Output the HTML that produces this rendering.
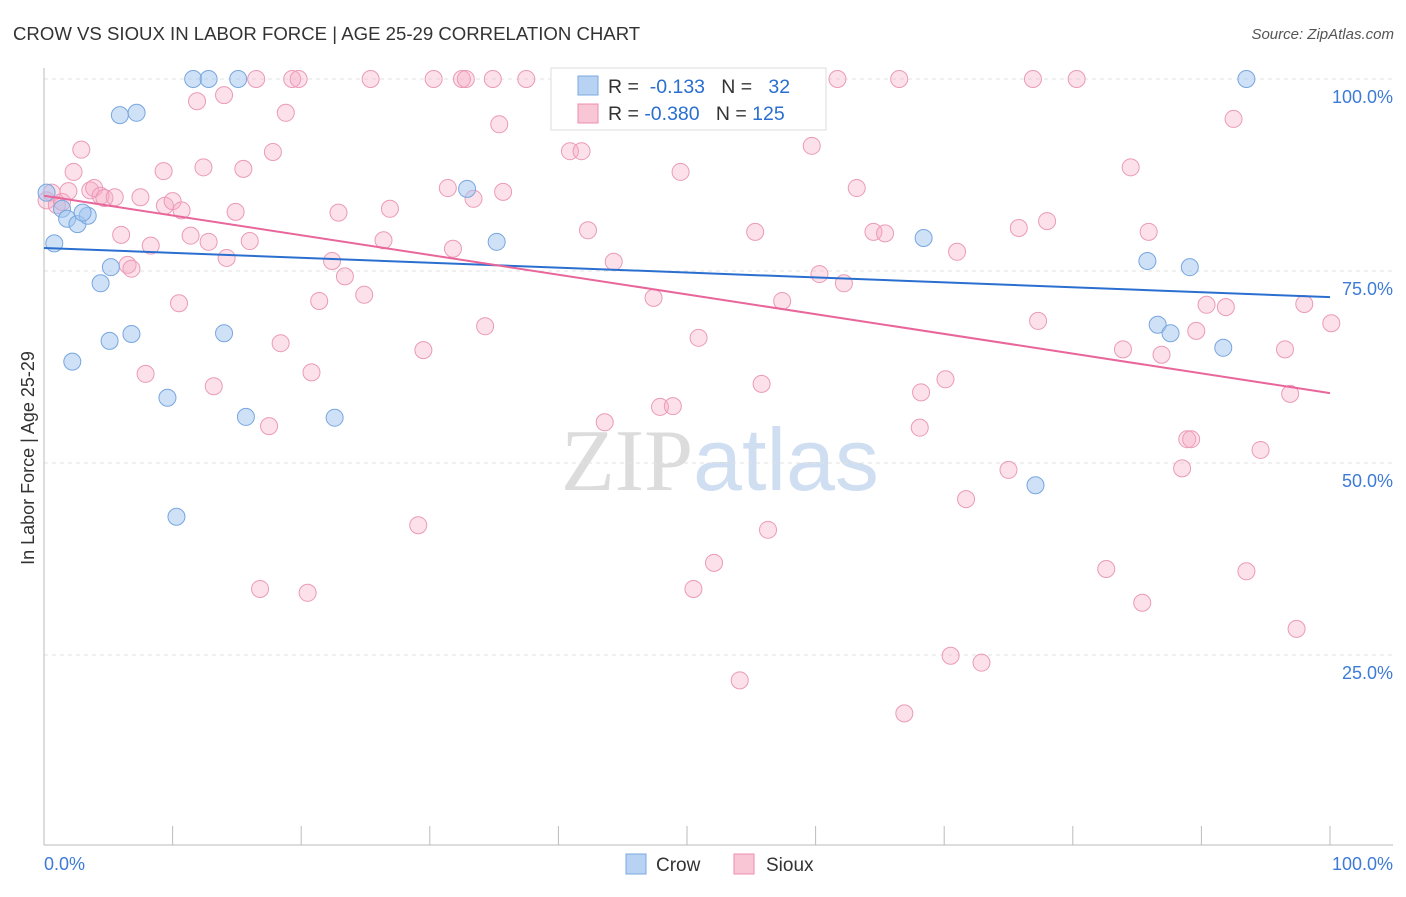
<!DOCTYPE html>
<html><head><meta charset="utf-8"><style>
body{margin:0;background:#fff;font-family:"Liberation Sans",sans-serif;}
svg text{font-family:"Liberation Sans",sans-serif;}
</style></head><body>
<svg id="chart" width="1406" height="892" viewBox="0 0 1406 892" xmlns="http://www.w3.org/2000/svg">
<text x="13" y="40" font-size="18.6" fill="#333">CROW VS SIOUX IN LABOR FORCE | AGE 25-29 CORRELATION CHART</text>
<text x="1394" y="39" font-size="15" fill="#555" text-anchor="end" font-style="italic">Source: ZipAtlas.com</text>
<text transform="translate(34,458) rotate(-90)" font-size="18" fill="#333" text-anchor="middle">In Labor Force | Age 25-29</text>
<text x="720" y="490" font-size="88" text-anchor="middle"><tspan fill="#dcdcdc" font-family="Liberation Serif">ZIP</tspan><tspan fill="#d0def2">atlas</tspan></text>
<g id="grid"></g><g id="axes"></g><g id="pts"></g><g id="trends"></g>
<g>
<rect x="551" y="68" width="275" height="62" fill="#fff" stroke="#ddd"/>
<rect x="578" y="76" width="20" height="19" fill="#b8d2f3" stroke="#7aaae0"/>
<rect x="578" y="104" width="20" height="19" fill="#f9c6d6" stroke="#eb8fb0"/>
<text x="608" y="93" font-size="19.5" fill="#333">R = <tspan fill="#2a6fd0">&#160;-0.133</tspan>&#160;&#160;&#160;N = <tspan fill="#2a6fd0">&#160;&#160;32</tspan></text>
<text x="608" y="120" font-size="19.5" fill="#333">R = <tspan fill="#2a6fd0">-0.380</tspan>&#160;&#160;&#160;N = <tspan fill="#2a6fd0">125</tspan></text>
</g>
<g>
<rect x="626" y="854" width="20" height="20" fill="#b8d2f3" stroke="#7aaae0"/>
<text x="656" y="871" font-size="19" fill="#333">Crow</text>
<rect x="734" y="854" width="20" height="20" fill="#f9c6d6" stroke="#eb8fb0"/>
<text x="766" y="871" font-size="19" fill="#333">Sioux</text>
</g>
</svg>
<script>
const yTicks=[100,75,50,25];
const yTickLabels=["100.0%","75.0%","50.0%","25.0%"];
const xTicks=[0,10,20,30,40,50,60,70,80,90,100];
const crowX=[0.2,0.8,1.4,1.8,2.6,3.4,3.0,4.4,5.2,5.1,5.9,7.2,6.8,2.2,9.6,10.3,11.6,12.8,15.1,14.0,15.7,22.6,32.9,35.2,68.4,77.1,85.8,86.6,87.6,89.1,91.7,93.5];
const crowY=[85.2,78.6,83.1,81.8,81.1,82.2,82.6,73.4,75.5,65.9,95.3,95.6,66.8,63.2,58.5,43.0,100,100,100,66.9,56.0,55.9,85.7,78.8,79.3,47.1,76.3,68.0,66.9,75.5,65.0,100];
const siouxX=[0.2,0.6,1.0,1.4,1.9,2.3,2.9,3.6,3.9,4.4,4.7,5.5,6.0,6.5,6.8,7.5,7.9,8.3,9.3,9.4,10.0,10.5,10.7,11.4,11.9,12.4,12.8,13.2,14.0,14.2,14.9,15.5,16.0,16.5,16.8,17.5,17.8,18.4,18.8,19.3,19.8,20.8,20.5,21.4,22.4,22.9,23.4,24.9,25.4,26.4,26.9,29.1,29.5,30.3,31.4,31.8,32.5,32.8,33.4,34.3,34.9,35.4,35.7,37.5,40.9,41.8,42.3,43.6,44.3,47.4,47.9,48.9,49.5,50.5,50.9,52.1,54.1,55.3,55.8,56.3,57.4,59.7,60.3,61.7,62.2,63.2,64.5,65.4,66.5,66.9,68.2,68.1,70.1,70.5,71.0,71.7,72.9,75.0,75.8,76.9,77.3,78.0,80.3,82.6,83.9,84.5,85.4,85.9,86.9,88.9,89.2,88.5,89.6,90.4,91.9,92.5,93.5,94.6,96.5,96.9,97.4,98.0,100.1];
const siouxY=[84.2,85.2,83.6,84.0,85.4,87.9,90.8,85.5,85.8,84.8,84.5,84.6,79.7,75.8,75.3,84.6,61.6,78.3,88.0,83.5,84.1,70.8,82.9,79.6,97.1,88.5,78.8,60.0,97.9,76.7,82.7,88.3,78.9,100,33.6,54.8,90.5,65.6,95.6,100,100,61.8,33.1,71.1,76.3,82.6,74.3,71.9,100,79.0,83.1,41.9,64.7,100,85.8,77.9,100,100,84.4,67.8,100,94.1,85.3,100,90.6,90.6,80.3,55.3,76.2,71.5,57.3,57.4,87.9,33.6,66.3,37.0,21.7,80.1,60.3,41.3,71.1,91.3,74.6,100,73.4,85.8,80.1,79.9,100,17.4,59.2,54.6,60.9,24.9,77.5,45.3,24.0,49.1,80.6,100,68.5,81.5,100,36.2,64.8,88.5,31.8,80.1,64.1,53.1,53.1,49.3,67.2,70.6,70.3,94.8,35.9,51.7,64.8,59.0,28.4,70.7,68.2];
const crowTrend=[78.0,71.6];   // y at x=0, x=100
const siouxTrend=[84.8,59.1];
const NS="http://www.w3.org/2000/svg";
const sx=v=>44+v*12.86, sy=v=>847-v*7.68;
function mk(tag,parent,attrs){const e=document.createElementNS(NS,tag);for(const k in attrs)e.setAttribute(k,attrs[k]);parent.appendChild(e);return e;}
const grid=document.getElementById('grid'),axes=document.getElementById('axes'),pts=document.getElementById('pts'),tr=document.getElementById('trends');
yTicks.forEach((t,i)=>{
 const l=mk('line',grid,{x1:44,x2:1393,y1:sy(t),y2:sy(t),stroke:'#e2e2e2','stroke-dasharray':'4,4'});
 
 
 const tx=mk('text',axes,{x:1393,y:sy(t)+24,'font-size':18,fill:'#3d7bd6','text-anchor':'end'});
 tx.textContent=yTickLabels[i];
 
 
});
const xa=mk('line',axes,{x1:44,x2:1393,y1:845,y2:845,stroke:'#bbb'});


const ya=mk('line',axes,{x1:44,x2:44,y1:68,y2:845,stroke:'#bbb'});


xTicks.forEach(t=>{const l=mk('line',axes,{x1:sx(t),x2:sx(t),y1:826,y2:845,stroke:'#bbb'});
 
 });
const x0=mk('text',axes,{x:44,y:870,'font-size':18,fill:'#3d7bd6'});x0.textContent='0.0%';


const x1=mk('text',axes,{x:1393,y:870,'font-size':18,fill:'#3d7bd6','text-anchor':'end'});x1.textContent='100.0%';


siouxX.forEach((v,i)=>{const c=mk('circle',pts,{cx:sx(v),cy:sy(siouxY[i]),r:8.5,fill:'rgba(246,170,196,0.35)',stroke:'#eb9ab8','stroke-width':1});
 
 });
crowX.forEach((v,i)=>{const c=mk('circle',pts,{cx:sx(v),cy:sy(crowY[i]),r:8.5,fill:'rgba(160,196,240,0.5)',stroke:'#78a6df','stroke-width':1});
 
 });
const lc=mk('line',tr,{x1:sx(0),y1:sy(crowTrend[0]),x2:sx(100),y2:sy(crowTrend[1]),stroke:'#2a6fd0','stroke-width':2});


const ls=mk('line',tr,{x1:sx(0),y1:sy(siouxTrend[0]),x2:sx(100),y2:sy(siouxTrend[1]),stroke:'#e8669a','stroke-width':2});


</script>
</body></html>
